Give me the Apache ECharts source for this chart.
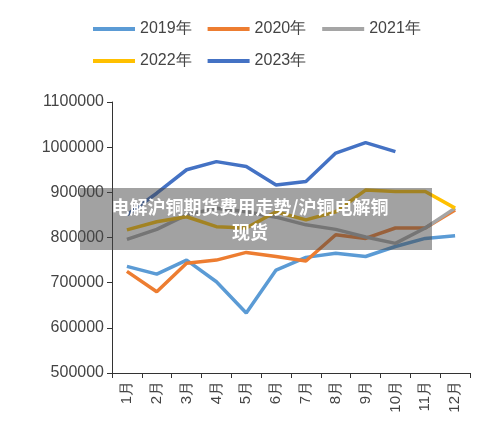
<!DOCTYPE html>
<html lang="zh">
<head>
<meta charset="UTF-8">
<script src="https://cdn.jsdelivr.net/npm/echarts@6/dist/echarts.min.js"></script>
</head>
<body style="margin:0;background:#fff">
<div id="main" style="width:500px;height:440px;"></div>
<script>
const months = ['1月','2月','3月','4月','5月','6月','7月','8月','9月','10月','11月','12月'];
const y2019 = [736000,719000,750000,702000,633000,728000,756000,765000,758000,780000,798000,804000];
const y2020 = [725000,680000,743000,750000,767000,758000,748000,806000,798000,821000,821000,861000];
const y2021 = [796000,818000,850000,865000,857000,845000,828000,818000,801000,787000,821000,865000];
const y2022 = [817000,835000,846000,824000,821000,857000,839000,857000,905000,902000,902000,865000];
const y2023 = [850000,898000,950000,968000,957000,916000,924000,987000,1010000,990000];
const colors = ['#5b9bd5','#ed7d31','#a5a5a5','#ffc000','#4472c4'];

const chart = echarts.init(document.getElementById('main'));
const mk = (name, data) => ({ name, type: 'line', data, symbol: 'none', lineStyle: { width: 3.5 } });
chart.setOption({
  color: colors,
  legend: {
    top: 16, left: 88, width: 360, icon: 'rect', itemWidth: 42, itemHeight: 4, itemGap: 16,
    textStyle: { fontSize: 16, color: '#444' },
    data: ['2019年','2020年','2021年','2022年','2023年']
  },
  grid: { left: 112, right: 30, top: 102, bottom: 67 },
  xAxis: {
    type: 'category', data: months, boundaryGap: true,
    axisLine: { lineStyle: { color: '#333' } },
    axisTick: { show: true, lineStyle: { color: '#333' } },
    axisLabel: { rotate: 90, fontSize: 15, color: '#444' }
  },
  yAxis: {
    type: 'value', min: 500000, max: 1100000, interval: 100000,
    axisLine: { show: true, lineStyle: { color: '#333' } },
    axisTick: { show: true, lineStyle: { color: '#333' } },
    splitLine: { show: false },
    axisLabel: { fontSize: 16, color: '#444', formatter: v => String(v) }
  },
  series: [mk('2019年', y2019), mk('2020年', y2020), mk('2021年', y2021), mk('2022年', y2022), mk('2023年', y2023)],
  graphic: [
    { type: 'rect', left: 80, top: 188, shape: { width: 352, height: 62 }, style: { fill: 'rgba(70,70,70,0.5)' }, z: 100 },
    { type: 'text', left: 'center', top: 195, z: 101,
      style: { text: '电解沪铜期货费用走势/沪铜电解铜\n现货', fill: '#fff', font: 'bold 18px "Noto Sans CJK SC"', textAlign: 'center', lineHeight: 25 } }
  ]
});
</script>
</body>
</html>
